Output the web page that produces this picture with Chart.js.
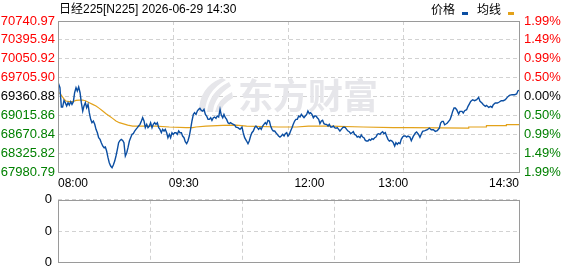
<!DOCTYPE html>
<html><head><meta charset="utf-8">
<script src="https://cdn.jsdelivr.net/npm/chart.js@4.4.1/dist/chart.umd.min.js"></script>
<style>
html,body{margin:0;padding:0;background:#fff;width:578px;height:276px;overflow:hidden}
#c1{position:absolute;left:0;top:0}
#c2{position:absolute;left:0;top:186px}
</style></head><body>
<canvas id="c1" width="578" height="192"></canvas>
<canvas id="c2" width="578" height="90"></canvas>
<script>
const titleText = '日经225[N225] 2026-06-29 14:30';
const legendNames = ['价格', '均线'];
const watermarkText = '东方财富';
const sessionMinutes = 330;
const gridMinutes = [0, 82.5, 165, 247.5, 330];
const timeLabels = ['08:00', '09:30', '12:00', '13:00', '14:30'];
const timeLabelMinutes = [0, 90, 180, 240, 330];
const priceTicks = [67980.79, 68325.82, 68670.84, 69015.86, 69360.88, 69705.90, 70050.92, 70395.94, 70740.97];
const priceTickLabels = ['67980.79', '68325.82', '68670.84', '69015.86', '69360.88', '69705.90', '70050.92', '70395.94', '70740.97'];
const pctTickLabels = ['1.99%', '1.49%', '0.99%', '0.50%', '0.00%', '0.50%', '0.99%', '1.49%', '1.99%'];
const volumeTicks = [0, 1, 2, 3, 4];
const volumeTickLabels = ['0', '0', '0', '0', '0'];
const volumeValues = [];

const priceMinutes = [0,1.4,2.4,3.3,4.3,5.2,6.2,7.2,8.1,9.1,10,11,11.9,12.9,13.8,14.8,15.8,16.7,17.7,18.6,19.6,20.5,21.5,22.4,23.4,24.3,25.3,26.3,27.2,28.2,29.1,30.1,31,32,32.9,33.9,34.8,35.8,36.7,37.7,38.7,39.6,40.6,41.5,42.5,43.4,44.4,45.3,46.3,47.2,48.2,49.2,50.1,51.1,52,53,53.9,54.9,55.8,56.8,57.7,58.7,59.7,60.6,61.6,62.5,63.5,64.4,65.4,66.3,67.3,68.2,69.2,70.1,71.1,72.1,73,74,74.9,75.9,76.8,77.8,78.7,79.7,80.6,81.6,82.5,83.5,84.5,85.4,86.4,87.3,88.3,89.2,90.2,91.1,92.1,93,94,94.9,95.9,96.9,97.8,98.8,99.7,100.7,101.6,102.6,103.6,104.5,105.5,106.4,107.4,108.3,109.3,110.2,111.2,112.1,113.1,114,115,116,116.9,117.9,118.8,119.8,120.7,121.7,122.6,123.6,124.5,125.5,126.5,127.4,128.8,130.3,131.7,132.6,133.6,135,136,136.9,137.9,138.8,139.8,140.8,141.7,142.7,143.6,144.6,145.5,146.5,147.4,148.4,149.3,150.3,151.3,152.2,153.2,154.1,155.1,156,157,157.9,158.9,159.8,160.8,161.8,162.7,163.7,164.6,165.6,166.5,167.5,168.4,169.4,170.3,171.3,172.3,173.2,174.2,175.1,176.1,177,178,178.9,179.9,180.8,181.8,182.8,183.7,184.7,185.6,186.6,187.5,188.5,189.4,190.4,191.3,192.3,193.3,194.2,195.2,196.1,197.1,198,199,199.9,200.9,201.8,202.8,203.8,204.7,205.7,206.6,207.6,208.5,209.5,210.4,211.4,212.3,213.3,214.2,215.2,216.2,217.1,218.1,219,220,220.9,221.9,222.8,223.8,224.7,225.7,226.7,227.6,228.6,229.5,230.5,231.4,232.4,233.3,234.3,235.2,236.2,237.2,238.1,239.1,240,241,241.9,242.9,243.8,244.8,245.7,246.7,247.6,248.6,249.6,250.5,251.9,252.9,254.3,255.8,256.7,258.2,259.1,260.1,261,262.7,264.4,265.8,267.2,268.7,270.1,271.5,273,273.9,274.9,275.8,276.8,277.7,278.7,279.6,280.6,281.5,282.5,283.5,284.4,285.4,286.8,287.7,289.2,290.1,291.1,292.5,293.5,294.4,295.4,296.8,298.2,299.7,301.1,302.1,303.5,304.5,305.9,306.8,308.3,309.7,310.7,311.6,313,314.5,315.9,317.3,318.8,320.2,321.6,323.1,325,326.9,328.3,329.3,330];
const priceValues = [69620,69522,69168,69168,69290,69248,69187,69248,69205,69266,69217,69266,69430,69522,69461,69534,69430,69248,69095,69187,69248,69156,69217,69065,68943,68882,68913,68852,68760,68699,68608,68577,68517,68456,68425,68437,68364,68242,68151,68090,68059,68108,68181,68273,68395,68517,68559,68577,68559,68517,68273,68334,68425,68547,68608,68669,68681,68730,68760,68791,68821,68852,68913,68973,68913,68791,68852,68791,68821,68882,68791,68852,68882,68852,68882,68791,68760,68699,68760,68730,68760,68699,68608,68669,68608,68699,68669,68699,68699,68669,68730,68699,68699,68638,68608,68535,68498,68547,68638,68760,68913,69034,69065,69034,69095,69126,69144,69107,69095,69126,69034,69004,68943,68943,68973,68925,68973,68986,68961,69004,68986,69126,69022,68973,69034,68973,68943,68882,68864,68882,68864,68852,68839,68800,68791,68760,68803,68699,68608,68547,68498,68547,68638,68699,68730,68791,68821,68791,68760,68791,68760,68821,68852,68882,68852,68925,68913,68821,68760,68730,68730,68699,68669,68638,68620,68638,68669,68638,68681,68699,68638,68669,68730,68791,68852,68913,68943,68943,69004,68986,69034,69004,68973,69004,69034,69095,69047,69065,69034,68973,69004,69004,68973,68943,68864,68913,68925,68864,68852,68852,68821,68852,68803,68803,68821,68791,68779,68791,68760,68730,68760,68791,68803,68791,68760,68730,68718,68681,68699,68718,68669,68657,68620,68632,68608,68657,68620,68608,68559,68547,68547,68577,68559,68590,68577,68608,68620,68669,68681,68669,68699,68718,68681,68699,68638,68577,68547,68559,68547,68517,68456,68517,68486,68517,68498,68577,68620,68638,68638,68620,68638,68620,68553,68632,68693,68711,68663,68614,68675,68724,68736,68754,68784,68754,68754,68724,68736,68784,68876,68906,68906,68845,68858,68876,68906,68937,68998,69089,69150,69150,69120,69040,69089,69089,69059,69101,69120,69181,69223,69272,69302,69284,69302,69345,69272,69241,69211,69181,69199,69162,69181,69162,69211,69241,69241,69260,69284,69284,69302,69345,69382,69394,69394,69406,69467,69473];

const avgMinutes = [1,4.5,5.7,8.1,10.5,12.9,15.3,17.7,20,22.4,24.8,27.2,29.6,32,34.4,36.7,39.1,41.5,43.9,46.3,49.9,53.5,70.1,79.7,91.6,96.4,98.8,105.9,117.9,127.4,135,157.7,170.8,179.2,194.7,218.5,240,251.9,293.7,294,306.4,306.7,320.7,321,330];
const avgValues = [69430,69309,69278,69266,69266,69290,69296,69296,69278,69248,69217,69187,69144,69095,69047,69004,68961,68913,68882,68864,68839,68821,68821,68803,68791,68791,68803,68821,68833,68839,68821,68803,68803,68821,68821,68803,68791,68791,68784,68803,68803,68827,68827,68845,68845];

const tickColors = priceTicks.map((v, i) => i < 4 ? '#008000' : (i === 4 ? '#000000' : '#ff0000'));
const tickFont = {family: "'Liberation Sans', Arial, sans-serif", size: 13};
const axisFont = {family: "'Liberation Sans', Arial, sans-serif", size: 12};
const gridColor = '#d2d2d2';

const framePlugin = {
  id: 'frame',
  afterDraw(chart) {
    const a = chart.chartArea, c = chart.ctx;
    c.save();
    c.strokeStyle = '#9a9a9a';
    c.lineWidth = 1;
    const l = Math.round(a.left) + 0.5, t = Math.round(a.top) + 0.5;
    const r = Math.round(a.right) + 0.5, b = Math.round(a.bottom) + 0.5;
    c.strokeRect(l, t, r - l, b - t);
    c.restore();
  }
};

const watermarkPlugin = {
  id: 'watermark',
  beforeDatasetsDraw(chart) {
    const c = chart.ctx;
    c.save();
    c.fillStyle = '#e6e6ea';
    c.beginPath();
    c.moveTo(199, 112); c.quadraticCurveTo(199, 87, 222, 78); c.lineTo(226, 80); c.quadraticCurveTo(206, 91, 205, 112); c.closePath();
    c.moveTo(207, 112); c.quadraticCurveTo(209, 92, 229, 82); c.lineTo(231, 86); c.quadraticCurveTo(214, 97, 213, 112); c.closePath();
    c.moveTo(215, 112); c.quadraticCurveTo(218, 99, 232, 92); c.lineTo(233, 98); c.quadraticCurveTo(222, 104, 221, 112); c.closePath();
    c.fill();
    c.font = "bold 35px 'Noto Sans CJK SC'";
    c.textBaseline = 'alphabetic';
    c.textAlign = 'left';
    c.fillText(watermarkText, 238, 109);
    c.restore();
  }
};

const headerPlugin = {
  id: 'header',
  afterDraw(chart) {
    const c = chart.ctx;
    c.save();
    c.font = "12px 'Liberation Sans', 'Noto Sans CJK SC', sans-serif";
    c.fillStyle = '#000';
    c.textBaseline = 'alphabetic';
    c.textAlign = 'left';
    c.fillText(titleText, 59, 13);
    c.font = "12px 'Noto Sans CJK SC', sans-serif";
    c.fillText(legendNames[0], 431, 14);
    c.fillStyle = '#0b4ea2';
    c.fillRect(462, 12, 6, 3);
    c.fillStyle = '#000';
    c.fillText(legendNames[1], 477, 14);
    c.fillStyle = '#e3a21a';
    c.fillRect(508, 12, 6, 3);
    c.restore();
  }
};

const pricePoints = priceMinutes.map((m, i) => ({x: m, y: priceValues[i]}));
const avgPoints = avgMinutes.map((m, i) => ({x: m, y: avgValues[i]}));

new Chart(document.getElementById('c1'), {
  type: 'line',
  data: {
    datasets: [
      {label: legendNames[1], data: avgPoints, borderColor: '#e3a21a', borderWidth: 1.2, pointRadius: 0, tension: 0, order: 2},
      {label: legendNames[0], data: pricePoints, borderColor: '#0b4ea2', borderWidth: 1.4, pointRadius: 0, tension: 0, order: 1}
    ]
  },
  options: {
    responsive: false, animation: false, devicePixelRatio: 1,
    layout: {padding: {top: 21, left: 0, right: 0, bottom: 0}},
    plugins: {legend: {display: false}, tooltip: {enabled: false}},
    scales: {
      x: {
        type: 'linear', position: 'bottom', min: 0, max: sessionMinutes,
        afterBuildTicks: s => { s.ticks = gridMinutes.map(v => ({value: v})); },
        ticks: {display: false},
        grid: {color: gridColor, drawTicks: false},
        border: {display: false, dash: [4, 3]},
        afterFit: s => { s.height = 0; }
      },
      xl: {
        type: 'linear', position: 'bottom', min: 0, max: sessionMinutes,
        afterBuildTicks: s => { s.ticks = timeLabelMinutes.map(v => ({value: v})); },
        ticks: {align: 'inner', autoSkip: false, maxRotation: 0, padding: 4, color: '#000', font: axisFont,
          callback: (v, i) => timeLabels[i]},
        grid: {display: false, drawTicks: false},
        border: {display: false},
        afterFit: s => { s.height = 20; }
      },
      y: {
        type: 'linear', position: 'left', min: priceTicks[0], max: priceTicks[priceTicks.length - 1],
        afterBuildTicks: s => { s.ticks = priceTicks.map(v => ({value: v})); },
        ticks: {padding: 3, font: tickFont, color: ctx => tickColors[ctx.index], callback: (v, i) => priceTickLabels[i]},
        grid: {color: gridColor, drawTicks: false},
        border: {display: false, dash: [4, 3]},
        afterFit: s => { s.width = 58; }
      },
      y2: {
        type: 'linear', position: 'right', min: priceTicks[0], max: priceTicks[priceTicks.length - 1],
        afterBuildTicks: s => { s.ticks = priceTicks.map(v => ({value: v})); },
        ticks: {padding: 5, font: tickFont, color: ctx => tickColors[ctx.index], callback: (v, i) => pctTickLabels[i]},
        grid: {display: false, drawTicks: false},
        border: {display: false},
        afterFit: s => { s.width = 59; }
      }
    }
  },
  plugins: [watermarkPlugin, framePlugin, headerPlugin]
});

new Chart(document.getElementById('c2'), {
  type: 'bar',
  data: {datasets: [{label: 'vol', data: volumeValues, backgroundColor: '#0b4ea2'}]},
  options: {
    responsive: false, animation: false, devicePixelRatio: 1,
    layout: {padding: {top: 10, left: 0, right: 0, bottom: 0}},
    plugins: {legend: {display: false}, tooltip: {enabled: false}},
    scales: {
      x: {
        type: 'linear', position: 'bottom', min: 0, max: sessionMinutes,
        afterBuildTicks: s => { s.ticks = gridMinutes.map(v => ({value: v})); },
        ticks: {display: false},
        grid: {color: gridColor, drawTicks: false},
        border: {display: false, dash: [4, 3]},
        afterFit: s => { s.height = 6; }
      },
      y: {
        type: 'linear', position: 'left', min: 0, max: 4,
        afterBuildTicks: s => { s.ticks = volumeTicks.map(v => ({value: v})); },
        ticks: {padding: 6, font: tickFont, color: '#000', callback: (v, i) => volumeTickLabels[i]},
        grid: {color: gridColor, drawTicks: false},
        border: {display: false, dash: [4, 3]},
        afterFit: s => { s.width = 58; }
      },
      y2: {
        type: 'linear', position: 'right', min: 0, max: 4,
        ticks: {display: false},
        grid: {display: false, drawTicks: false},
        border: {display: false},
        afterFit: s => { s.width = 59; }
      }
    }
  },
  plugins: [framePlugin]
});
</script>
</body></html>
